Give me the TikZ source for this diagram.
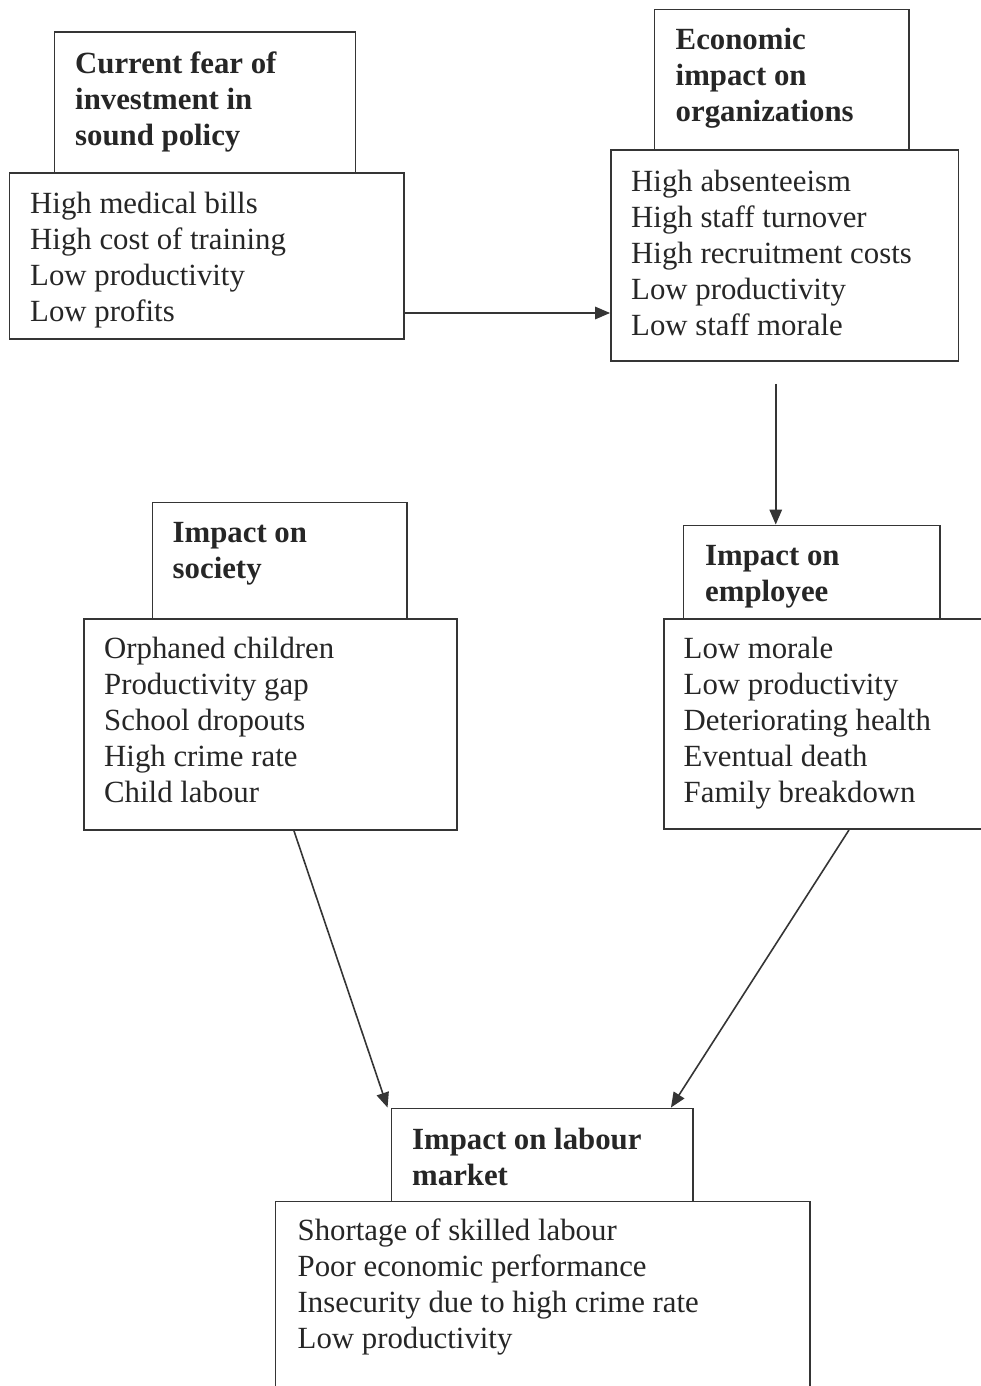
\documentclass[tikz,border=0pt]{standalone}
\usepackage{fontspec}
\setmainfont{Liberation Serif}
\usetikzlibrary{arrows.meta,fit,calc}
\definecolor{ink}{HTML}{353535}
\definecolor{txtink}{HTML}{262626}
\begin{document}
\begin{tikzpicture}[x=1pt,y=-1pt,
  boxstyle/.style={draw=ink, line width=1.9pt, inner sep=0pt},
  titletext/.style={anchor=north west, inner sep=0pt, align=left, text=txtink, font=\fontsize{30.8}{36}\selectfont\bfseries},
  listtext/.style={anchor=north west, inner sep=0pt, align=left, text=txtink, font=\fontsize{30.8}{36}\selectfont},
  arr/.style={draw=ink, line width=1.6pt, -{Triangle[length=15pt,width=12.5pt]}}]
\fill[white] (0,0) rectangle (980,1386);
\useasboundingbox (0,0) rectangle (980,1386);

% boxes
\node[boxstyle, fit={(54.5,32) (355.5,173)}] (t1) {};
\node[boxstyle, fit={(9.5,173) (404,339)}] (l1) {};
\node[boxstyle, fit={(654.5,9.5) (909,150)}] (t2) {};
\node[boxstyle, fit={(611,150) (958.5,361)}] (l2) {};
\node[boxstyle, fit={(152.5,502.5) (407,619)}] (t3) {};
\node[boxstyle, fit={(84,619) (457,830)}] (l3) {};
\node[boxstyle, fit={(683.5,525.5) (940,619)}] (t4) {};
\node[boxstyle, fit={(664,619) (1000,829)}] (l4) {};
\node[boxstyle, fit={(391.5,1108.5) (693,1201.5)}] (t5) {};
\node[boxstyle, fit={(275.5,1201.5) (810,1420)}] (l5) {};

% texts
\node[titletext] (tt1) at (75,47.8) {\strut Current fear of\\investment in\\sound policy};
\node[listtext] (lt1) at (30,187.8) {\strut High medical bills\\High cost of training\\Low productivity\\Low profits};
\node[titletext] (tt2) at (675.5,24.3) {\strut Economic\\impact on\\organizations};
\node[listtext] (lt2) at (631,165.8) {\strut High absenteeism\\High staff turnover\\High recruitment costs\\Low productivity\\Low staff morale};
\node[titletext] (tt3) at (172.5,516.8) {\strut Impact on\\society};
\node[listtext] (lt3) at (104,632.8) {\strut Orphaned children\\Productivity gap\\School dropouts\\High crime rate\\Child labour};
\node[titletext] (tt4) at (705,539.8) {\strut Impact on\\employee};
\node[listtext] (lt4) at (683.5,632.8) {\strut Low morale\\Low productivity\\Deteriorating health\\Eventual death\\Family breakdown};
\node[titletext] (tt5) at (412,1123.8) {\strut Impact on labour\\market};
\node[listtext] (lt5) at (297.5,1214.8) {\strut Shortage of skilled labour\\Poor economic performance\\Insecurity due to high crime rate\\Low productivity};

% connectors
\coordinate (c1) at ([yshift=-57pt]l1.east);
\draw[arr] (c1) -- (c1 -| l2.west);
\coordinate (c2) at ([xshift=-9pt,yshift=-22pt]l2.south);
\draw[arr] (c2) -- (c2 |- t4.north);
\draw[arr] ([xshift=23.5pt]l3.south) -- ([xshift=-3pt]t5.north west);
\draw[arr] ([xshift=17pt]l4.south) -- ([xshift=-23pt]t5.north east);
\end{tikzpicture}
\end{document}
